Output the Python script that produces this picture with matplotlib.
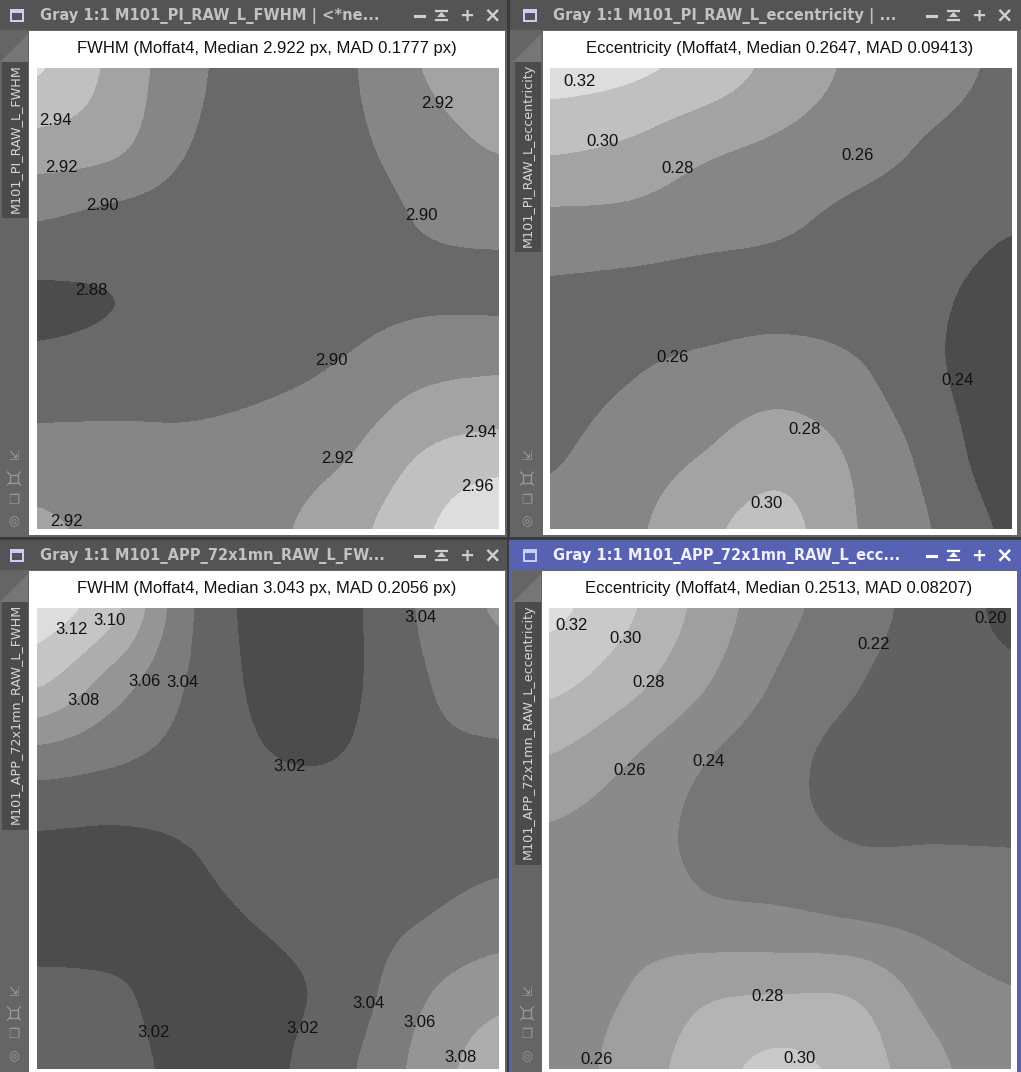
import numpy as np
import matplotlib.pyplot as plt
from matplotlib.colors import ListedColormap, BoundaryNorm
from matplotlib.patches import Rectangle, Polygon

# ---- data: 7x7 samples of each map (rows top -> bottom, cols left -> right)
fwhm_pi = np.array([
    [2.962, 2.935, 2.905, 2.890, 2.897, 2.920, 2.935],
    [2.933, 2.925, 2.900, 2.890, 2.895, 2.910, 2.922],
    [2.900, 2.893, 2.890, 2.888, 2.890, 2.901, 2.905],
    [2.877, 2.880, 2.885, 2.888, 2.893, 2.897, 2.897],
    [2.887, 2.889, 2.892, 2.896, 2.903, 2.916, 2.920],
    [2.908, 2.907, 2.905, 2.909, 2.918, 2.940, 2.949],
    [2.923, 2.915, 2.912, 2.916, 2.932, 2.956, 2.980],
])
ecc_pi = np.array([
    [0.328, 0.324, 0.313, 0.293, 0.276, 0.266, 0.257],
    [0.304, 0.298, 0.285, 0.277, 0.268, 0.258, 0.253],
    [0.275, 0.274, 0.268, 0.263, 0.255, 0.250, 0.242],
    [0.256, 0.254, 0.253, 0.254, 0.251, 0.243, 0.232],
    [0.254, 0.259, 0.266, 0.271, 0.263, 0.243, 0.228],
    [0.258, 0.268, 0.280, 0.291, 0.276, 0.252, 0.226],
    [0.265, 0.275, 0.295, 0.306, 0.280, 0.259, 0.236],
])
fwhm_app = np.array([
    [3.130, 3.105, 3.042, 3.012, 3.015, 3.042, 3.062],
    [3.102, 3.070, 3.038, 3.015, 3.016, 3.038, 3.050],
    [3.050, 3.042, 3.032, 3.021, 3.021, 3.035, 3.037],
    [3.018, 3.017, 3.021, 3.027, 3.030, 3.032, 3.035],
    [3.012, 3.012, 3.016, 3.022, 3.030, 3.039, 3.048],
    [3.024, 3.022, 3.013, 3.015, 3.028, 3.057, 3.073],
    [3.027, 3.025, 3.016, 3.016, 3.036, 3.066, 3.092],
])
ecc_app = np.array([
    [0.325, 0.304, 0.274, 0.246, 0.230, 0.210, 0.197],
    [0.305, 0.287, 0.262, 0.237, 0.221, 0.207, 0.203],
    [0.278, 0.261, 0.241, 0.226, 0.213, 0.208, 0.208],
    [0.257, 0.249, 0.236, 0.227, 0.219, 0.219, 0.219],
    [0.255, 0.254, 0.245, 0.243, 0.238, 0.233, 0.226],
    [0.253, 0.260, 0.276, 0.279, 0.277, 0.252, 0.241],
    [0.250, 0.267, 0.290, 0.305, 0.291, 0.265, 0.248],
])

fwhm_pi_levels = [2.88, 2.90, 2.92, 2.94, 2.96]
ecc_pi_levels = [0.24, 0.26, 0.28, 0.30, 0.32]
fwhm_app_levels = [3.02, 3.04, 3.06, 3.08, 3.10, 3.12]
ecc_app_levels = [0.20, 0.22, 0.24, 0.26, 0.28, 0.30, 0.32]

medians = [2.922, 0.2647, 3.043, 0.2513]
mads = [0.1777, 0.09413, 0.2056, 0.08207]

image_names = ["M101_PI_RAW_L_FWHM", "M101_PI_RAW_L_eccentricity",
               "M101_APP_72x1mn_RAW_L_FWHM", "M101_APP_72x1mn_RAW_L_eccentricity"]
window_titles = ["Gray 1:1 M101_PI_RAW_L_FWHM | <*ne...",
                 "Gray 1:1 M101_PI_RAW_L_eccentricity | ...",
                 "Gray 1:1 M101_APP_72x1mn_RAW_L_FW...",
                 "Gray 1:1 M101_APP_72x1mn_RAW_L_ecc..."]

# contour labels (value, x, y) in plot fractions
labels_fwhm_pi = [("2.94", 0.040, 0.114), ("2.92", 0.054, 0.215), ("2.90", 0.141, 0.298),
                  ("2.88", 0.117, 0.482), ("2.92", 0.868, 0.076), ("2.90", 0.833, 0.320),
                  ("2.90", 0.638, 0.634), ("2.94", 0.962, 0.791), ("2.92", 0.651, 0.846),
                  ("2.96", 0.956, 0.907), ("2.92", 0.063, 0.983)]
labels_ecc_pi = [("0.32", 0.064, 0.030), ("0.30", 0.114, 0.159), ("0.28", 0.276, 0.218),
                 ("0.26", 0.668, 0.189), ("0.26", 0.265, 0.627), ("0.24", 0.885, 0.678),
                 ("0.28", 0.553, 0.784), ("0.30", 0.470, 0.944)]
labels_fwhm_app = [("3.12", 0.074, 0.046), ("3.10", 0.158, 0.027), ("3.06", 0.233, 0.159),
                   ("3.04", 0.315, 0.162), ("3.08", 0.101, 0.200), ("3.02", 0.547, 0.343),
                   ("3.04", 0.832, 0.020), ("3.04", 0.719, 0.857), ("3.06", 0.829, 0.900),
                   ("3.02", 0.252, 0.920), ("3.02", 0.577, 0.913), ("3.08", 0.918, 0.976)]
labels_ecc_app = [("0.32", 0.049, 0.038), ("0.30", 0.166, 0.067), ("0.28", 0.217, 0.162),
                  ("0.26", 0.175, 0.352), ("0.24", 0.346, 0.333), ("0.22", 0.705, 0.079),
                  ("0.20", 0.958, 0.023), ("0.28", 0.475, 0.842), ("0.30", 0.544, 0.978),
                  ("0.26", 0.103, 0.980)]

maps = [fwhm_pi, ecc_pi, fwhm_app, ecc_app]
levels_all = [fwhm_pi_levels, ecc_pi_levels, fwhm_app_levels, ecc_app_levels]
labels_all = [labels_fwhm_pi, labels_ecc_pi, labels_fwhm_app, labels_ecc_app]

W, H = 1021, 1072
fig = plt.figure(figsize=(W / 100, H / 100), dpi=100)
fig.patch.set_facecolor('#3a3a3a')
bg = fig.add_axes([0, 0, 1, 1])
bg.set_xlim(0, W)
bg.set_ylim(H, 0)
bg.axis('off')

# window geometry: x, y, w, h, strip width
windows = [(0, 0, 507, 537, 29), (510, 0, 511, 537, 33),
           (0, 540, 507, 532, 29), (510, 540, 511, 532, 32)]
tab_ends = [218, 252, 830, 865]
active = 3

STRIP = '#656565'
TITLE = '#545454'
BLUE = '#5862b3'


def add_rect(x, y, w, h, c, z=1):
    bg.add_patch(Rectangle((x, y), w, h, facecolor=c, edgecolor='none', zorder=z))


def px_axes(x, y, w, h):
    return fig.add_axes([x / W, 1 - (y + h) / H, w / W, h / H])


def draw_map(ax, z, levels):
    ny, nx = z.shape
    hx, hy = 0.5 / (nx - 1), 0.5 / (ny - 1)
    bounds = [z.min() - 1] + list(levels) + [z.max() + 1]
    grays = np.linspace(0.30, 0.87, len(bounds) - 1)
    cmap = ListedColormap([str(g) for g in grays])
    norm = BoundaryNorm(bounds, cmap.N)
    ax.imshow(z, cmap=cmap, norm=norm, interpolation='catrom', interpolation_stage='data',
              extent=(-hx, 1 + hx, 1 + hy, -hy), aspect='auto')
    ax.set_xlim(0, 1)
    ax.set_ylim(1, 0)
    ax.axis('off')


def tool_icons(x, y, c):
    # resize arrow, fit frame, clone, target (drawn small like the strip icons)
    bg.text(x, y, '⇲', color=c, fontsize=9, ha='center', va='center', zorder=4)
    y2 = y + 21.5
    bg.add_patch(Rectangle((x - 4, y2 - 4), 8, 8, fill=False, edgecolor=c, lw=0.9, zorder=4))
    for dx in (-1, 1):
        for dy in (-1, 1):
            bg.plot([x + dx * 4, x + dx * 6.5], [y2 + dy * 4, y2 + dy * 6.5], color=c, lw=0.9, zorder=4)
    bg.text(x, y + 43, '❐', color=c, fontsize=9, ha='center', va='center', zorder=4)
    bg.text(x, y + 64.5, '◎', color=c, fontsize=9, ha='center', va='center', zorder=4)


for i, (wx, wy, ww, wh, sw) in enumerate(windows):
    is_active = i == active
    bar = BLUE if is_active else TITLE
    # frame + strip
    add_rect(wx, wy, ww, wh, STRIP)
    if is_active:
        add_rect(wx - 1, wy, 3, wh, BLUE, 2)
        add_rect(wx + ww - 4, wy, 4, wh, BLUE, 2)
    add_rect(wx, wy, ww, 30, bar, 2)
    # white area
    top = wy + 31
    add_rect(wx + sw, top, ww - sw - (4 if i % 2 else 2), wh - 33 if wy == 0 else wh - 31, 'white', 2)

    # title bar icon + text
    ix = wx + 10 + (3 if i % 2 else 0)
    add_rect(ix, wy + 9, 14, 13, '#c9cdf7', 3)
    add_rect(ix + 2, wy + 13, 10, 7, bar, 4)
    bg.text(ix + 30, wy + 16, window_titles[i], color='#f0f0ff' if is_active else '#c2c2c2',
            fontsize=10.5, fontweight='bold', family='DejaVu Sans', va='center', ha='left', zorder=5)
    bx = wx + ww - 92 - (2 if i % 2 else 0)
    ic = 'white' if is_active else '#cfcfcf'
    bg.plot([bx, bx + 9], [wy + 16, wy + 16], color=ic, lw=2.2, zorder=5)
    bg.add_patch(Polygon([(bx + 22, wy + 17), (bx + 31, wy + 17), (bx + 26.5, wy + 12)],
                         closed=True, facecolor=ic, edgecolor='none', zorder=5))
    bg.plot([bx + 21, bx + 32], [wy + 11, wy + 11], color=ic, lw=1.6, zorder=5)
    bg.plot([bx + 21, bx + 32], [wy + 20, wy + 20], color=ic, lw=1.6, zorder=5)
    bg.text(bx + 52, wy + 16, '+', color=ic, fontsize=13, fontweight='bold', ha='center',
            va='center', zorder=5)
    bg.text(bx + 77, wy + 15.5, '×', color=ic, fontsize=15, fontweight='bold', ha='center',
            va='center', zorder=5)

    # vertical tab with image id
    sx = wx + (3 if i % 2 else 0)
    bg.add_patch(Polygon([(sx, top + 31), (sx + 28, top + 3), (sx + 28, top + 31)],
                         closed=True, facecolor='#767676', edgecolor='none', zorder=3))
    add_rect(sx + 2, top + 31, 26, tab_ends[i] - top - 31, '#4b4b4b', 3)
    bg.text(sx + 15, top + 33, image_names[i], rotation=90, color='#d6d6d6', fontsize=9.2,
            family='DejaVu Sans', ha='center', va='top', zorder=4)
    tool_icons(sx + 14, wy + wh - 80, '#9a9a9a')

    # map
    px = wx + sw + (7 if i % 2 else 8)
    py = wy + 68
    ax = px_axes(px, py, 461, 461)
    draw_map(ax, maps[i], levels_all[i])
    for txt, lx, ly in labels_all[i]:
        ax.text(lx, ly, txt, fontsize=12, family='Liberation Sans', color='#111111',
                ha='center', va='center', clip_on=True)
    unit = ' px' if i % 2 == 0 else ''
    kind = 'FWHM' if i % 2 == 0 else 'Eccentricity'
    title = f"{kind} (Moffat4, Median {medians[i]:g}{unit}, MAD {mads[i]:g}{unit})"
    bg.text(px + 230, wy + 48, title, fontsize=12, family='Liberation Sans', color='#111111',
            ha='center', va='center', zorder=5)

fig.savefig('out.png', dpi=100, facecolor=fig.get_facecolor())
